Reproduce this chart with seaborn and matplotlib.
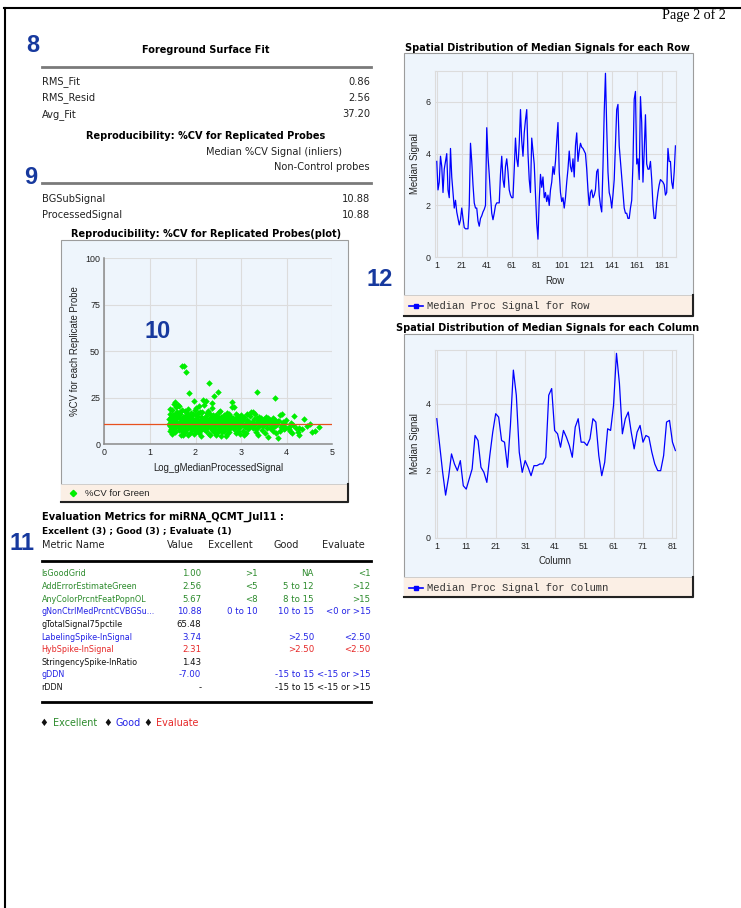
import numpy as np
import pandas as pd
import seaborn as sns
import matplotlib.pyplot as plt
from matplotlib.patches import Rectangle

W, H = 741, 908

# ---- data ----
surface_fit_labels = ['RMS_Fit', 'RMS_Resid', 'Avg_Fit']
surface_fit_values = ['0.86', '2.56', '37.20']
cv_labels = ['BGSubSignal', 'ProcessedSignal']
cv_values = ['10.88', '10.88']
median_cv = 10.88

row_signal = [
    3.7, 2.6, 2.9, 3.9, 3.5, 2.5, 3.4, 3.7, 4.0, 2.6,
    2.3, 4.2, 3.1, 2.5, 1.9, 2.2, 1.75, 1.5, 1.25, 1.45,
    1.9, 1.5, 1.15, 1.1, 1.1, 1.1, 2.0, 4.4, 3.7, 2.8,
    2.1, 1.9, 1.9, 1.4, 1.2, 1.5, 1.6, 1.75, 1.85, 2.0,
    5.0, 3.9, 3.2, 2.4, 1.7, 1.45, 1.7, 2.0, 2.1, 2.1,
    2.1, 3.2, 3.9, 3.0, 2.7, 3.5, 3.8, 3.3, 2.6, 2.4,
    2.3, 2.3, 3.4, 4.6, 3.8, 3.5, 4.4, 5.7, 4.5, 3.9,
    4.8, 5.3, 5.7, 4.0, 3.0, 2.5, 4.6, 4.1, 3.6, 2.4,
    1.3, 0.7, 2.2, 3.2, 2.7, 3.1, 2.3, 2.5, 2.15, 2.4,
    2.0, 2.6, 2.9, 3.5, 3.2, 3.7, 4.5, 5.2, 3.3, 2.5,
    2.15, 2.3, 1.9, 2.3, 2.9, 3.4, 4.1, 3.5, 3.3, 3.8,
    3.1, 4.3, 4.8, 3.7, 4.1, 4.4, 4.25, 4.2, 4.1, 4.0,
    3.4, 2.6, 2.0, 2.5, 2.6, 2.3, 2.4, 2.6, 3.3, 3.4,
    2.4, 2.0, 1.75, 3.5, 5.6, 7.1, 5.0, 3.3, 2.5, 2.3,
    1.9, 2.4, 3.0, 4.4, 5.7, 5.9, 4.3, 3.7, 3.1, 2.5,
    1.9, 1.7, 1.7, 1.5, 1.5, 1.9, 2.2, 3.6, 6.1, 6.4,
    3.6, 3.8, 3.0, 6.2, 5.2, 2.9, 4.1, 5.5, 3.6, 3.4,
    3.4, 3.7, 3.0, 2.0, 1.5, 1.5, 2.1, 2.5, 2.8, 3.0,
    2.95, 2.9, 2.8, 2.4, 2.5, 4.2, 3.7, 3.7, 2.9, 2.65,
    3.3, 4.3,
]

col_signal = [
    3.55, 2.75, 1.95, 1.27, 1.8, 2.5, 2.2, 2.0, 2.3, 1.55,
    1.45, 1.75, 2.05, 3.05, 2.9, 2.1, 1.95, 1.65, 2.45, 3.15,
    3.7, 3.6, 2.9, 2.85, 2.1, 3.35, 5.0, 4.25, 2.55, 1.95,
    2.3, 2.1, 1.85, 2.15, 2.15, 2.2, 2.2, 2.4, 4.25, 4.45,
    3.2, 3.1, 2.7, 3.2, 3.0, 2.75, 2.4, 3.3, 3.55, 2.85,
    2.85, 2.75, 2.95, 3.55, 3.45, 2.45, 1.85, 2.25, 3.25, 3.2,
    3.95, 5.5, 4.6, 3.1, 3.55, 3.75, 3.15, 2.65, 3.15, 3.35,
    2.85, 3.05, 3.0, 2.55, 2.2, 2.0, 2.0, 2.45, 3.45, 3.5,
    2.85, 2.6,
]

# (log median processed signal, %CV) for replicated probes
cv_points = [
    (1.42, 13.5), (1.43, 9.8), (1.44, 16.2), (1.45, 7.1), (1.46, 11.9), (1.47, 14.8), (1.48, 5.6), (1.49, 18.7),
    (1.50, 12.4), (1.51, 8.9), (1.52, 21.6), (1.53, 10.3), (1.54, 15.5), (1.55, 6.8), (1.56, 13.1), (1.57, 19.9),
    (1.58, 9.2), (1.59, 11.4), (1.60, 17.3), (1.41, 11.0), (1.44, 19.0), (1.47, 8.3), (1.50, 15.9), (1.53, 12.9),
    (1.56, 22.8), (1.58, 14.2), (1.45, 10.6), (1.52, 7.4), (1.57, 16.8), (1.49, 13.0),
    (1.61, 10.1), (1.62, 14.6), (1.63, 7.9), (1.64, 20.4), (1.65, 12.2), (1.66, 9.5), (1.67, 16.1), (1.68, 5.2),
    (1.69, 13.8), (1.70, 42.3), (1.75, 42.3), (1.79, 39.0), (1.70, 11.1), (1.71, 18.3), (1.72, 8.4), (1.73, 14.9),
    (1.74, 10.7), (1.76, 6.6), (1.77, 15.4), (1.78, 12.0), (1.80, 9.0), (1.62, 21.0), (1.66, 17.5), (1.71, 7.2),
    (1.75, 13.3), (1.78, 17.9), (1.64, 11.6), (1.69, 9.9), (1.73, 4.8), (1.77, 10.3),
    (1.81, 13.7), (1.82, 8.1), (1.83, 19.2), (1.84, 11.3), (1.85, 27.4), (1.86, 15.2), (1.87, 6.3), (1.88, 12.6),
    (1.89, 9.4), (1.90, 17.0), (1.91, 10.8), (1.92, 14.1), (1.93, 7.7), (1.94, 11.9), (1.95, 16.4), (1.96, 5.5),
    (1.97, 23.4), (1.98, 13.0), (1.99, 9.6), (2.00, 15.8), (1.82, 16.6), (1.86, 10.2), (1.90, 12.8), (1.94, 8.6),
    (1.98, 18.4), (1.84, 4.9), (1.88, 14.4), (1.92, 10.0), (1.96, 12.3), (2.00, 7.0),
    (2.01, 11.6), (2.02, 19.5), (2.03, 8.8), (2.04, 13.4), (2.05, 10.1), (2.06, 16.7), (2.07, 6.1), (2.08, 20.8),
    (2.09, 12.1), (2.10, 9.3), (2.11, 14.7), (2.12, 11.0), (2.13, 4.6), (2.14, 17.6), (2.15, 10.5), (2.16, 23.8),
    (2.17, 12.9), (2.18, 8.0), (2.19, 21.3), (2.20, 13.9), (2.03, 15.1), (2.07, 11.8), (2.11, 7.5), (2.15, 14.0),
    (2.19, 10.9), (2.05, 6.9), (2.09, 17.2), (2.13, 12.5), (2.17, 9.1), (2.01, 9.7),
    (2.21, 10.4), (2.22, 23.4), (2.23, 7.3), (2.24, 15.0), (2.25, 11.7), (2.26, 9.0), (2.27, 18.1), (2.28, 12.6),
    (2.29, 5.8), (2.30, 32.8), (2.30, 13.5), (2.31, 10.2), (2.32, 16.3), (2.33, 8.5), (2.34, 11.4), (2.35, 14.4),
    (2.36, 19.4), (2.37, 22.0), (2.38, 9.8), (2.39, 12.2), (2.40, 6.4), (2.23, 13.2), (2.27, 10.6), (2.31, 4.8),
    (2.35, 9.4), (2.39, 15.6), (2.25, 16.9), (2.29, 11.0), (2.33, 13.0), (2.37, 7.6),
    (2.41, 25.8), (2.41, 11.1), (2.42, 14.2), (2.43, 8.2), (2.44, 12.8), (2.45, 10.0), (2.46, 16.0), (2.47, 6.0),
    (2.48, 13.6), (2.49, 9.6), (2.50, 28.3), (2.50, 11.5), (2.51, 17.4), (2.52, 7.9), (2.53, 12.3), (2.54, 17.9),
    (2.55, 10.7), (2.56, 4.3), (2.57, 14.8), (2.58, 11.8), (2.59, 8.7), (2.60, 13.1), (2.43, 15.3), (2.47, 11.6),
    (2.52, 13.9), (2.56, 9.9), (2.44, 5.2), (2.49, 14.6), (2.54, 10.4), (2.58, 6.5),
    (2.61, 10.0), (2.62, 15.7), (2.63, 7.1), (2.64, 12.0), (2.65, 9.2), (2.66, 14.3), (2.67, 11.3), (2.68, 5.4),
    (2.69, 16.8), (2.70, 12.7), (2.71, 8.4), (2.72, 10.8), (2.73, 13.8), (2.74, 6.6), (2.75, 11.9), (2.76, 15.2),
    (2.77, 9.5), (2.78, 12.5), (2.79, 20.3), (2.80, 10.3), (2.63, 13.0), (2.67, 4.5), (2.71, 14.5), (2.75, 8.8),
    (2.79, 13.3), (2.65, 11.0), (2.69, 9.7), (2.73, 16.2), (2.77, 12.1), (2.62, 8.0),
    (2.81, 22.9), (2.82, 11.2), (2.83, 14.0), (2.84, 20.2), (2.85, 8.3), (2.86, 12.9), (2.87, 10.1), (2.88, 16.5),
    (2.89, 6.2), (2.90, 13.4), (2.91, 9.9), (2.92, 11.7), (2.93, 15.0), (2.94, 7.4), (2.95, 12.4), (2.96, 10.4),
    (2.97, 14.1), (2.98, 5.7), (2.99, 11.0), (3.00, 13.2), (2.83, 9.3), (2.87, 13.8), (2.91, 12.7), (2.95, 8.9),
    (2.99, 15.9),
    (3.02, 10.6), (3.04, 12.8), (3.05, 7.3), (3.07, 14.9), (3.08, 9.2), (3.10, 11.5), (3.11, 6.0), (3.13, 13.1),
    (3.14, 10.0), (3.16, 8.1), (3.17, 12.2), (3.19, 15.3), (3.20, 9.6), (3.06, 4.9), (3.12, 16.4), (3.18, 11.1),
    (3.22, 17.3), (3.23, 12.0), (3.25, 17.5), (3.26, 8.7), (3.28, 13.5), (3.29, 10.2), (3.31, 16.1), (3.32, 6.4),
    (3.34, 28.3), (3.34, 11.8), (3.35, 14.3), (3.36, 5.0), (3.37, 9.4), (3.39, 14.8), (3.40, 12.4), (3.27, 10.9),
    (3.33, 8.0),
    (3.42, 10.5), (3.44, 14.0), (3.45, 7.6), (3.47, 12.6), (3.48, 9.8), (3.50, 13.7), (3.51, 11.2), (3.53, 6.2),
    (3.54, 14.5), (3.56, 10.7), (3.57, 8.5), (3.59, 12.9), (3.60, 4.0), (3.46, 11.7), (3.52, 13.0), (3.58, 13.9),
    (3.61, 11.4), (3.63, 13.2), (3.64, 8.6), (3.66, 12.0), (3.67, 10.1), (3.69, 13.8), (3.70, 7.1), (3.72, 11.9),
    (3.74, 25.1), (3.74, 9.7), (3.75, 13.0), (3.77, 6.3), (3.78, 11.0), (3.80, 12.7), (3.68, 9.0), (3.71, 14.4),
    (3.82, 3.2), (3.83, 12.4), (3.85, 15.8), (3.86, 6.9), (3.87, 9.1), (3.89, 10.4), (3.89, 16.1), (3.91, 12.1),
    (3.93, 8.4), (3.95, 11.6), (3.96, 8.6), (3.97, 9.5), (3.99, 13.0),
    (4.04, 8.2), (4.04, 9.5), (4.07, 7.1), (4.09, 11.5), (4.14, 10.4), (4.17, 15.4), (4.20, 9.0), (4.24, 6.8),
    (4.27, 5.0), (4.28, 9.0), (4.33, 8.2), (4.39, 13.6), (4.45, 9.8), (4.51, 10.7), (4.55, 6.4), (4.62, 7.1),
    (4.71, 9.5), (4.12, 6.0),
]

metric_names = ['IsGoodGrid', 'AddErrorEstimateGreen', 'AnyColorPrcntFeatPopnOL', 'gNonCtrlMedPrcntCVBGSu...',
                'gTotalSignal75pctile', 'LabelingSpike-InSignal', 'HybSpike-InSignal',
                'StringencySpike-InRatio', 'gDDN', 'rDDN']
metric_values = ['1.00', '2.56', '5.67', '10.88', '65.48', '3.74', '2.31', '1.43', '-7.00', '-']
metric_excellent = ['>1', '<5', '<8', '0 to 10', '', '', '', '', '', '']
metric_good = ['NA', '5 to 12', '8 to 15', '10 to 15', '', '>2.50', '>2.50', '', '-15 to 15', '-15 to 15']
metric_evaluate = ['<1', '>12', '>15', '<0 or >15', '', '<2.50', '<2.50', '', '<-15 or >15', '<-15 or >15']
metric_status = ['excellent', 'excellent', 'excellent', 'good', None, 'good', 'evaluate', None, 'good', None]

# ---- styling ----
PANEL = '#EEF5FC'
BEIGE = '#FBEFE5'
GRID = '#DCDCDC'
GREEN_TXT = '#2B8A2B'
BLUE_TXT = '#2222E6'
RED_TXT = '#E62828'
NUM_BLUE = '#17399E'
status_colors = {'excellent': GREEN_TXT, 'good': BLUE_TXT, 'evaluate': RED_TXT, None: '#111111'}

UI = 'DejaVu Sans'
CHART = 'Liberation Sans'
MONO = 'Liberation Mono'
NARROW = ['DejaVu Sans Condensed', 'Liberation Sans Narrow', 'Liberation Sans']


def px_axes(fig, left, top, right, bottom, zorder=1):
    ax = fig.add_axes([left / W, 1 - bottom / H, (right - left) / W, (bottom - top) / H])
    ax.set_zorder(zorder)
    return ax


def page_layer(fig, zorder):
    ax = px_axes(fig, 0, 0, W, H, zorder=zorder)
    ax.set_xlim(0, W)
    ax.set_ylim(H, 0)
    ax.axis('off')
    return ax


def chart_panel(bg, left, top, right, bottom, legend_top):
    bg.add_patch(Rectangle((left, top), right - left, bottom - top,
                           facecolor=PANEL, edgecolor='#9C9C9C', lw=0.8))
    bg.add_patch(Rectangle((left, legend_top), right - left, bottom - legend_top,
                           facecolor=BEIGE, edgecolor='none'))
    bg.plot([left, right], [legend_top, legend_top], color='#C8C8C8', lw=0.6)
    bg.plot([left, right, right], [bottom, bottom, legend_top], color='#222222', lw=1.5)


def style_chart(ax, xlabel, ylabel):
    ax.set_facecolor(PANEL)
    ax.grid(True, color=GRID, lw=0.8)
    ax.set_axisbelow(True)
    ax.tick_params(length=0, pad=3, labelsize=6.4, colors='#222222')
    for lab in ax.get_xticklabels() + ax.get_yticklabels():
        lab.set_fontfamily(CHART)
    ax.set_xlabel(xlabel, fontsize=6.9, family=CHART, color='#222222', labelpad=4)
    ax.set_ylabel(ylabel, fontsize=6.9, family=CHART, color='#222222', labelpad=4)
    for spine in ax.spines.values():
        spine.set_color(GRID)
        spine.set_linewidth(0.8)


fig = plt.figure(figsize=(W / 100, H / 100), dpi=100)
fig.patch.set_facecolor('white')

bg = page_layer(fig, 0)
fg = page_layer(fig, 3)

# page frame
bg.plot([4, W], [8, 8], color='black', lw=1.5)
bg.plot([5, 5], [8, H], color='black', lw=1.5)
fg.text(726, 15, 'Page 2 of 2', family='Liberation Serif', fontsize=10.2, ha='right', va='center')

# ---- foreground surface fit ----
fg.text(206, 50, 'Foreground Surface Fit', family=UI, fontsize=7.0, weight='bold', ha='center', va='center')
bg.plot([41.7, 370.7], [66.7, 66.7], color='#7A7A7A', lw=2)
for i, (lab, val) in enumerate(zip(surface_fit_labels, surface_fit_values)):
    y = 81.7 + i * 16.2
    fg.text(41.7, y, lab, family=UI, fontsize=7.1, ha='left', va='center', color='#222222')
    fg.text(370, y, val, family=UI, fontsize=7.1, ha='right', va='center', color='#222222')

fg.text(206, 135.7, 'Reproducibility: %CV for Replicated Probes', family=UI, fontsize=7.0,
        weight='bold', ha='center', va='center')
fg.text(341.7, 151.7, 'Median %CV Signal (inliers)', family=UI, fontsize=7.1, ha='right', va='center',
        color='#222222')
fg.text(370, 166.7, 'Non-Control probes', family=UI, fontsize=7.1, ha='right', va='center', color='#222222')
bg.plot([41.7, 370.7], [182.7, 182.7], color='#7A7A7A', lw=2)
for i, (lab, val) in enumerate(zip(cv_labels, cv_values)):
    y = 199 + i * 16
    fg.text(41.7, y, lab, family=UI, fontsize=7.1, ha='left', va='center', color='#222222')
    fg.text(370, y, val, family=UI, fontsize=7.1, ha='right', va='center', color='#222222')

# ---- %CV scatter ----
fg.text(206, 234, 'Reproducibility: %CV for Replicated Probes(plot)', family=UI, fontsize=7.0,
        weight='bold', ha='center', va='center')
chart_panel(bg, 61, 240, 348, 502, 483.5)

cv_df = pd.DataFrame(cv_points, columns=['log_signal', 'cv'])
ax1 = px_axes(fig, 104.3, 258.3, 332.3, 444.3)
sns.scatterplot(data=cv_df, x='log_signal', y='cv', color='#00EE00', marker='D', s=11,
                linewidth=0, ax=ax1, zorder=3)
ax1.axhline(median_cv, color='#E8501E', lw=0.9, zorder=4)
ax1.set_xlim(0, 5)
ax1.set_ylim(0, 100)
ax1.set_xticks(range(0, 6))
ax1.set_yticks([0, 25, 50, 75, 100])
style_chart(ax1, 'Log_gMedianProcessedSignal', '%CV for each Replicate Probe')
for side in ['left', 'bottom']:
    ax1.spines[side].set_color('#8A8A8A')
    ax1.spines[side].set_linewidth(1.1)
ax1.spines['top'].set_visible(False)
ax1.spines['right'].set_visible(False)

fg.plot(73.3, 493.3, marker='D', color='#00EE00', ms=3.2)
fg.text(85, 493.3, '%CV for Green', family=CHART, fontsize=6.8, ha='left', va='center', color='#222222')

# ---- evaluation metrics ----
fg.text(41.7, 516.7, 'Evaluation Metrics for miRNA_QCMT_Jul11 :', family=UI, fontsize=7.1,
        weight='bold', ha='left', va='center')
fg.text(41.7, 531.7, 'Excellent (3) ; Good (3) ; Evaluate (1)', family=UI, fontsize=6.5,
        weight='bold', ha='left', va='center')
for txt, x in zip(['Metric Name', 'Value', 'Excellent', 'Good', 'Evaluate'], [41.7, 167, 208, 274, 322.3]):
    fg.text(x, 545, txt, family=UI, fontsize=7.0, ha='left', va='center', color='#222222')
bg.plot([41.7, 371], [560.7, 560.7], color='black', lw=2)

for i in range(len(metric_names)):
    y = 574 + i * 12.6
    c = status_colors[metric_status[i]]
    fg.text(41.7, y, metric_names[i], family=UI, fontsize=5.8, ha='left', va='center', color=c)
    for txt, x in zip([metric_values[i], metric_excellent[i], metric_good[i], metric_evaluate[i]],
                      [201.3, 257.7, 314, 370.7]):
        fg.text(x, y, txt, family=UI, fontsize=6.2, ha='right', va='center', color=c)
bg.plot([41.7, 371], [702, 702], color='black', lw=2)

for x_d, x_t, txt, c in [(44, 52.7, 'Excellent', GREEN_TXT), (107.3, 115.7, 'Good', BLUE_TXT),
                         (147.7, 155.7, 'Evaluate', RED_TXT)]:
    fg.text(x_d, 722.7, '\u2666', family=UI, fontsize=7, ha='center', va='center', color='#111111')
    fg.text(x_t, 722.7, txt, family=UI, fontsize=6.9, ha='left', va='center', color=c)

# ---- spatial distribution: rows ----
fg.text(547.7, 47.7, 'Spatial Distribution of Median Signals for each Row', family=UI, fontsize=7.0,
        weight='bold', ha='center', va='center')
chart_panel(bg, 404, 53.3, 692.7, 316, 295)
row_df = pd.DataFrame({'row': np.arange(1, len(row_signal) + 1), 'signal': row_signal})
ax2 = px_axes(fig, 435, 70.7, 675.7, 257.3)
sns.lineplot(data=row_df, x='row', y='signal', color='#0000FF', lw=0.9, estimator=None, ax=ax2)
ax2.set_xlim(-0.4, 192.2)
ax2.set_ylim(0, 7.2)
ax2.set_xticks(range(1, 182, 20))
ax2.set_yticks([0, 2, 4, 6])
style_chart(ax2, 'Row', 'Median Signal')

fg.plot([409, 423], [306, 306], color='#0000FF', lw=1.2)
fg.plot(416, 306, marker='s', color='#0000FF', ms=3.2)
fg.text(427.3, 306, 'Median Proc Signal for Row', family=MONO, fontsize=7.6, ha='left', va='center',
        color='#333333')

# ---- spatial distribution: columns ----
fg.text(547.5, 327.7, 'Spatial Distribution of Median Signals for each Column', family=UI, fontsize=7.0,
        weight='bold', ha='center', va='center')
chart_panel(bg, 404, 334, 692.7, 596.7, 576.7)
col_df = pd.DataFrame({'column': np.arange(1, len(col_signal) + 1), 'signal': col_signal})
ax3 = px_axes(fig, 435, 350, 675.7, 537.7)
sns.lineplot(data=col_df, x='column', y='signal', color='#0000FF', lw=0.9, estimator=None, ax=ax3)
ax3.set_xlim(0.4, 82.1)
ax3.set_ylim(0, 5.6)
ax3.set_xticks(range(1, 82, 10))
ax3.set_yticks([0, 2, 4])
style_chart(ax3, 'Column', 'Median Signal')

fg.plot([409, 423], [587.7, 587.7], color='#0000FF', lw=1.2)
fg.plot(416, 587.7, marker='s', color='#0000FF', ms=3.2)
fg.text(427.3, 587.7, 'Median Proc Signal for Column', family=MONO, fontsize=7.6, ha='left', va='center',
        color='#333333')

# ---- section numbers ----
for txt, x, y in [('8', 33, 45), ('9', 31, 177.5), ('10', 157.5, 331.7), ('11', 21.7, 543), ('12', 380, 280)]:
    fg.text(x, y, txt, family=NARROW, fontsize=17, weight='bold', ha='center', va='center', color=NUM_BLUE)

fig.savefig('out.png', dpi=100)
